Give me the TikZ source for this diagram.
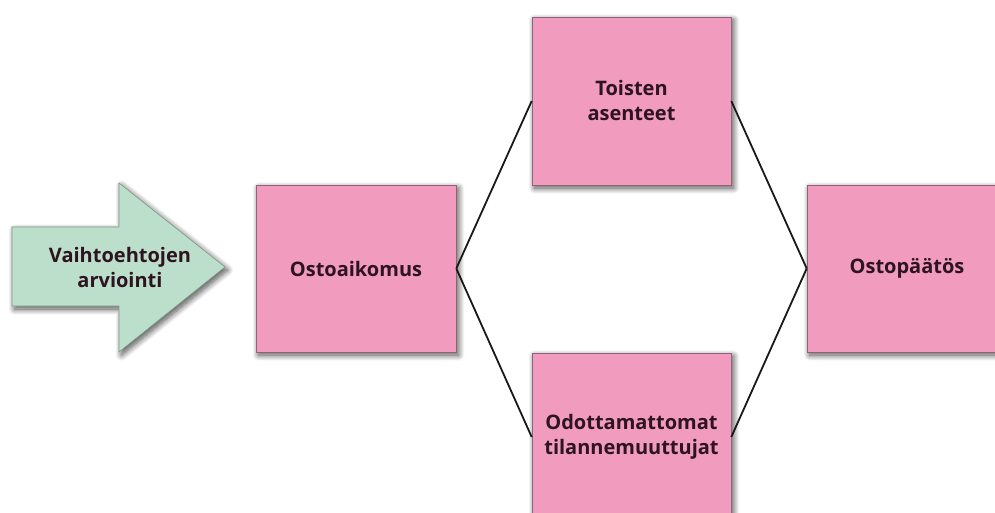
\documentclass[tikz,border=0pt]{standalone}
\usepackage{fontspec}
\setmainfont{Open Sans}
\usetikzlibrary{shadows.blur}
\definecolor{boxpink}{HTML}{F19BBF}
\definecolor{boxedge}{HTML}{8E6474}
\definecolor{arrowgreen}{HTML}{BCDFCB}
\definecolor{arrowedge}{HTML}{7E9886}
\definecolor{labeltext}{HTML}{2E1420}
\begin{document}
\begin{tikzpicture}[x=1pt,y=-1pt,
  softshadow/.style={blur shadow={shadow xshift=2.5pt,shadow yshift=-3pt,
      shadow blur steps=12,shadow blur radius=6pt,shadow opacity=70}},
  labelfont/.style={text=labeltext,font=\fontsize{20}{25}\selectfont\bfseries},
  stage/.style={draw=boxedge,line width=0.6pt,fill=boxpink,softshadow,
      minimum width=200pt,minimum height=167pt,inner sep=0pt,
      align=center,labelfont},
  link/.style={line width=1.8pt,black!90}]
\useasboundingbox (0,0) rectangle (995,513);
\clip (0,0) rectangle (995,513);

% incoming block arrow
\draw[fill=arrowgreen,draw=arrowedge,line width=0.6pt,softshadow]
  (12,227) -- (119,227) -- (119,183) -- (225,267) -- (119,352)
  -- (119,306) -- (12,306) -- cycle;
\node[align=center,labelfont] (eval) at (120,267) {Vaihtoehtojen\\arviointi};

% stages
\node[stage] (intent) at (356,268.5) {Ostoaikomus};
\node[stage,minimum width=199pt,minimum height=168pt] (others) at (631.5,101) {Toisten\\asenteet};
\node[stage,minimum width=199pt,minimum height=168pt] (unexp) at (631.5,437) {Odottamattomat\\tilannemuuttujat};
\node[stage] (decision) at (907,268.5) {Ostopäätös};

% connectors
\draw[link] (intent.east) -- (others.west);
\draw[link] (intent.east) -- (unexp.west);
\draw[link] (others.east) -- (decision.west);
\draw[link] (unexp.east) -- (decision.west);
\end{tikzpicture}
\end{document}
